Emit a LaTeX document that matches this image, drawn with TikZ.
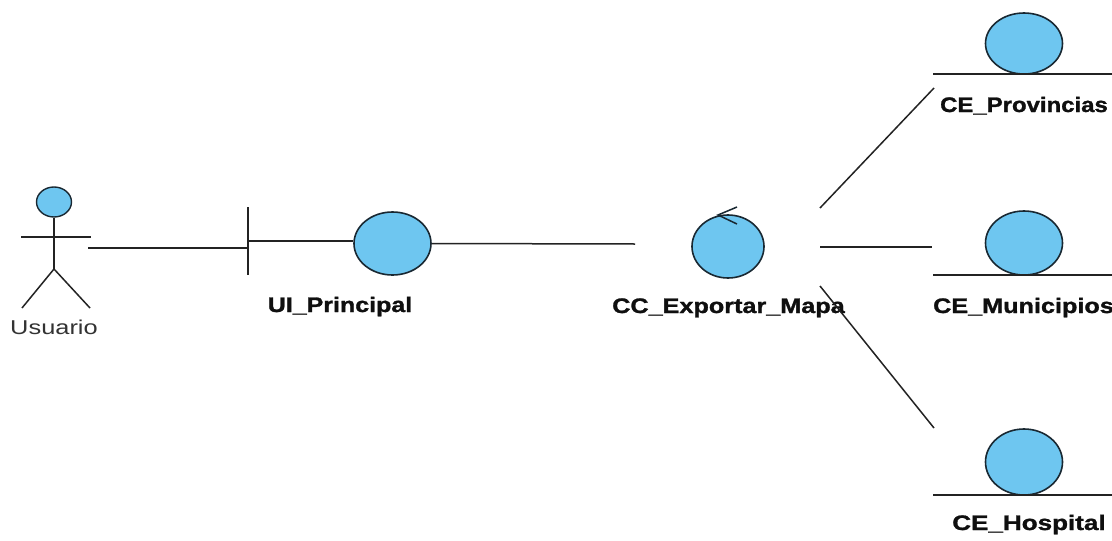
\documentclass[tikz,border=0pt]{standalone}
\usepackage{fontspec}
\setmainfont{Liberation Sans}
\newfontfamily\lblfont[FakeBold=1.2]{Liberation Sans Bold}
\usetikzlibrary{shapes.geometric}
\definecolor{ballfill}{RGB}{110,198,240}
\definecolor{ballline}{RGB}{25,40,50}
\definecolor{lncol}{RGB}{35,35,35}
\definecolor{txtcol}{RGB}{15,15,15}
\begin{document}
\begin{tikzpicture}[x=1pt,y=-1pt,
  ln/.style={line width=1.5pt, draw=lncol},
  ball/.style={ellipse, draw=ballline, line width=1.6pt, fill=ballfill, inner sep=0pt, minimum width=77pt, minimum height=63pt},
  lbl/.style={inner sep=0pt, anchor=base, text=txtcol, font=\lblfont\fontsize{21}{21}\selectfont},
  albl/.style={inner sep=0pt, text=black!80, font=\fontsize{20}{20}\selectfont}]
\fill[white] (0,0) rectangle (1112,541);
\useasboundingbox (0,0) rectangle (1112,541);

% Actor
\node[ellipse, draw=ballline, line width=1.4pt, fill=ballfill, inner sep=0pt, minimum width=35pt, minimum height=30pt] (head) at (54,202) {};
\coordinate (hip) at (54,269);
\coordinate (armL) at (21,237);
\coordinate (armR) at (91,237);
\coordinate (footL) at (22,308);
\coordinate (footR) at (90,308);
\draw[ln] (head.south) -- (hip);
\draw[ln] (armL) -- (armR);
\draw[ln] (footL) -- (hip) -- (footR);
\node[albl] (usuario) at (54,327) {\scalebox{1.27}[1]{Usuario}};

% Boundary UI_Principal
\node[ball] (ui) at (392.5,243.5) {};
\coordinate (barT) at (248,207);
\coordinate (barB) at (248,275);
\coordinate (barM) at (248,241);
\draw[ln] (barT) -- (barB);
\draw[ln] (barM) -- (ui.west |- barM);
\node[lbl] (uilbl) at (340,312) {\scalebox{1.19}[1]{UI\_Principal}};

% Control CC_Exportar_Mapa
\node[ball, minimum width=72pt] (cc) at (728,246.5) {};
\coordinate (arA) at (737,207);
\coordinate (arTip) at (718,215);
\coordinate (arB) at (737,224);
\draw[line width=1.5pt, draw=ballline] (arA) -- (arTip) -- (arB);
\node[lbl] (cclbl) at (728.5,313) {\scalebox{1.2}[1]{CC\_Exportar\_Mapa}};

% Entities
\node[ball, minimum height=61pt] (prov) at (1024,43.5) {};
\draw[ln] (933,74) coordinate (provL) -- (1112,74) coordinate (provR);
\node[lbl] (provlbl) at (1024,112) {\scalebox{1.14}[1]{CE\_Provincias}};

\node[ball, minimum height=64pt] (mun) at (1024,243) {};
\draw[ln] (933,275) coordinate (munL) -- (1112,275) coordinate (munR);
\node[lbl] (munlbl) at (1023.5,313) {\scalebox{1.2}[1]{CE\_Municipios}};

\node[ball, minimum height=66pt] (hosp) at (1024,462) {};
\draw[ln] (933,495) coordinate (hospL) -- (1112,495) coordinate (hospR);
\node[lbl] (hosplbl) at (1029,530) {\scalebox{1.24}[1]{CE\_Hospital}};

% Connectors
\coordinate (actEnd) at (88,248);
\coordinate (bndIn) at (248,248);
\draw[ln] (actEnd) -- (bndIn);

\coordinate (ccIn) at (635,244);
\draw[ln] (ui.east) -- (ccIn);

\coordinate (c1a) at (820,208);
\coordinate (c1b) at (934,88);
\draw[ln] (c1a) -- (c1b);

\coordinate (c2a) at (820,247);
\coordinate (c2b) at (932,247);
\draw[ln] (c2a) -- (c2b);

\coordinate (c3a) at (820,286);
\coordinate (c3b) at (934,428);
\draw[ln] (c3a) -- (c3b);
\end{tikzpicture}
\end{document}
